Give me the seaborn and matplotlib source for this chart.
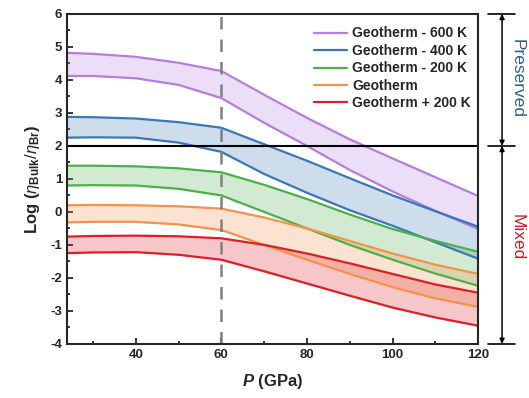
import numpy as np
import pandas as pd
import matplotlib
matplotlib.use("Agg")
import matplotlib.pyplot as plt
import seaborn as sns

# %% data
pressure = [24, 30, 40, 50, 60, 70, 80, 90, 100, 110, 120]

labels = ['Geotherm - 600 K', 'Geotherm - 400 K', 'Geotherm - 200 K',
          'Geotherm', 'Geotherm + 200 K']
colors = ['#B57EDC', '#3A78B5', '#4DAF4A', '#F5924A', '#DC1F26']

upper = {
    'Geotherm - 600 K': [4.82, 4.79, 4.70, 4.52, 4.27, 3.55, 2.85, 2.20, 1.62, 1.05, 0.48],
    'Geotherm - 400 K': [2.88, 2.87, 2.83, 2.72, 2.55, 2.05, 1.55, 1.02, 0.50, 0.02, -0.45],
    'Geotherm - 200 K': [1.40, 1.40, 1.38, 1.32, 1.20, 0.82, 0.39, -0.08, -0.52, -0.88, -1.21],
    'Geotherm':         [0.20, 0.21, 0.20, 0.17, 0.10, -0.17, -0.50, -0.88, -1.26, -1.60, -1.88],
    'Geotherm + 200 K': [-0.75, -0.73, -0.72, -0.74, -0.80, -1.00, -1.26, -1.56, -1.88, -2.20, -2.45],
}
lower = {
    'Geotherm - 600 K': [4.12, 4.12, 4.05, 3.85, 3.45, 2.70, 2.00, 1.27, 0.62, 0.03, -0.52],
    'Geotherm - 400 K': [2.25, 2.26, 2.25, 2.10, 1.82, 1.15, 0.58, 0.05, -0.42, -0.92, -1.42],
    'Geotherm - 200 K': [0.80, 0.81, 0.80, 0.70, 0.50, 0.00, -0.50, -1.00, -1.45, -1.87, -2.24],
    'Geotherm':         [-0.32, -0.30, -0.30, -0.38, -0.55, -1.00, -1.45, -1.88, -2.28, -2.62, -2.88],
    'Geotherm + 200 K': [-1.25, -1.23, -1.22, -1.30, -1.45, -1.80, -2.17, -2.54, -2.90, -3.20, -3.45],
}

threshold = 2
p_boundary = 60

# long-form table for seaborn
rows = []
for lab in labels:
    for p, hi, lo in zip(pressure, upper[lab], lower[lab]):
        rows.append({'P': p, 'val': hi, 'series': lab, 'bound': 'upper'})
        rows.append({'P': p, 'val': lo, 'series': lab, 'bound': 'lower'})
df = pd.DataFrame(rows)

# %% plot
sns.set_style("ticks")
plt.rcParams['font.family'] = ['Liberation Sans', 'DejaVu Sans']
plt.rcParams['axes.unicode_minus'] = False
plt.rcParams['mathtext.fontset'] = 'custom'
plt.rcParams['mathtext.rm'] = 'Liberation Sans'
plt.rcParams['mathtext.it'] = 'Liberation Sans:italic'
plt.rcParams['mathtext.bf'] = 'Liberation Sans:bold'
plt.rcParams['mathtext.bfit'] = 'Liberation Sans:italic:bold'

fig = plt.figure(figsize=(5.29, 3.98), dpi=100)
ax = fig.add_axes([0.127, 0.136, 0.777, 0.829])

for lab, c in zip(labels, colors):
    ax.fill_between(pressure, lower[lab], upper[lab], color=c, alpha=0.25, lw=0)

sns.lineplot(data=df, x='P', y='val', hue='series', units='bound', estimator=None,
             palette=dict(zip(labels, colors)), hue_order=labels, lw=1.6, ax=ax)

ax.axhline(threshold, color='black', lw=1.5)
ax.axvline(p_boundary, color='grey', lw=1.8, ls=(0, (5, 4)))

ax.set_xlim(24, 120)
ax.set_ylim(-4, 6)
ax.set_xticks([40, 60, 80, 100, 120])
ax.set_xticks([30, 50, 70, 90, 110], minor=True)
ax.set_yticks(np.arange(-4, 7, 1))
ax.set_yticks(np.arange(-3.5, 6, 1), minor=True)
ax.tick_params(which='both', direction='in', width=1.3, labelsize=9.5)
ax.tick_params(which='major', length=4)
ax.tick_params(which='minor', length=2.5)
for t in ax.get_xticklabels() + ax.get_yticklabels():
    t.set_fontweight('bold')
for s in ax.spines.values():
    s.set_linewidth(1.5)

ax.set_xlabel(r'$\mathbfit{P}$ (GPa)', fontsize=12, fontweight='bold', labelpad=8)
ax.set_ylabel(r'Log ($\mathit{\eta}_{\mathbf{Bulk}}/\mathit{\eta}_{\mathbf{Br}}$)',
              fontsize=12, fontweight='bold', labelpad=6)

handles, labs = ax.get_legend_handles_labels()
ax.legend(handles, labs, loc='upper right', frameon=False, handlelength=2.4,
          handletextpad=0.35, labelspacing=0.25, prop={'weight': 'bold', 'size': 10},
          bbox_to_anchor=(1.012, 1.0))

# right side brackets
trans = ax.get_yaxis_transform()
for yv in [6, 2, -4]:
    ax.plot([1.024, 1.09], [yv, yv], color='black', lw=1.2, transform=trans, clip_on=False)
for y_top, y_bot in [(6, 2), (2, -4)]:
    ax.annotate('', xy=(1.058, y_top), xytext=(1.058, y_bot), xycoords=trans, textcoords=trans,
                arrowprops=dict(arrowstyle='<|-|>', color='black', lw=1.1,
                                mutation_scale=7, shrinkA=0, shrinkB=0))
ax.text(1.094, 4.05, 'Preserved', transform=trans, rotation=-90, ha='center',
        va='center', fontsize=12.5, color='#2F5D8C')
ax.text(1.094, -0.75, 'Mixed', transform=trans, rotation=-90, ha='center',
        va='center', fontsize=12.5, color='#C0202A')

fig.savefig('out.png', dpi=100)
